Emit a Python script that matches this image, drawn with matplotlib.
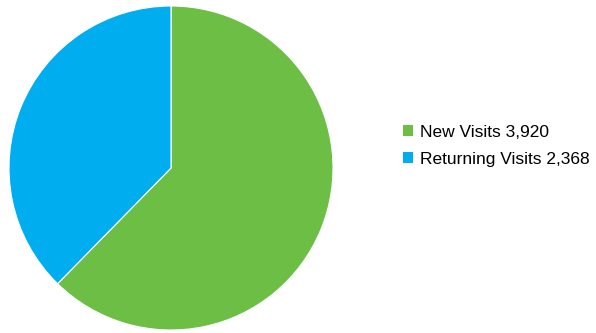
import matplotlib
matplotlib.use("Agg")
import matplotlib.pyplot as plt
from matplotlib.patches import Patch

categories = ["New Visits", "Returning Visits"]
visits = [3920, 2368]
colors = ["#6CBE45", "#00AEEF"]

plt.rcParams["font.family"] = ["Liberation Sans", "DejaVu Sans"]

fig = plt.figure(figsize=(5.96, 3.33), dpi=100)
ax = fig.add_axes([9 / 596, 3 / 333, 324 / 596, 324 / 333])
ax.pie(visits, colors=colors, startangle=90, counterclock=False,
       wedgeprops=dict(edgecolor="white", linewidth=0.8))
ax.set_xlim(-1, 1)
ax.set_ylim(-1, 1)
ax.set_aspect("equal")
ax.axis("off")

labels = [f"{c} {v:,}" for c, v in zip(categories, visits)]
handles = [Patch(facecolor=col, edgecolor="none") for col in colors]
fig.legend(handles, labels, loc="center left",
           bbox_to_anchor=(396 / 596, 1 - 146 / 333),
           frameon=False, fontsize=12.5, handlelength=0.6, handleheight=0.6,
           handletextpad=0.4, labelspacing=0.68, borderaxespad=0)

fig.savefig("out.png", dpi=100)
